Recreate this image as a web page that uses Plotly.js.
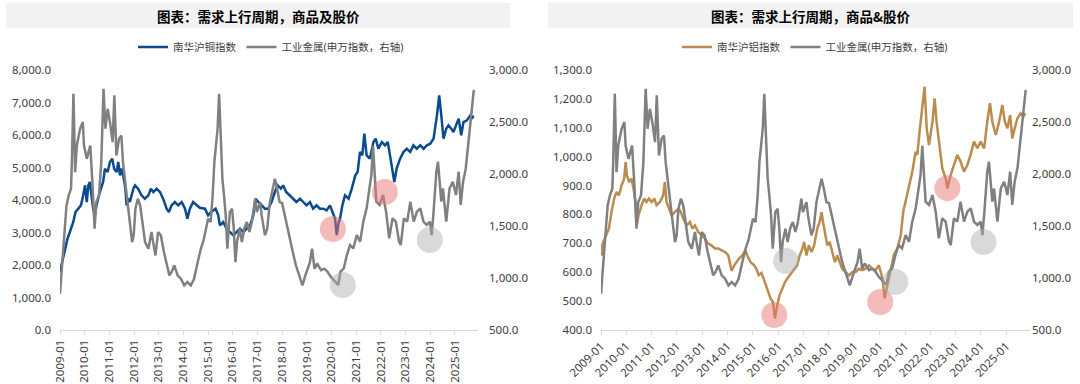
<!DOCTYPE html>
<html>
<head>
<meta charset="utf-8">
<script src="https://cdn.plot.ly/plotly-3.0.1.min.js"></script>
<style>
html,body{margin:0;padding:0;background:#fff;}
#chart{width:1080px;height:384px;}
</style>
</head>
<body>
<div id="chart"></div>
<script>
// ---------------- DATA ----------------
const titleLeft = '图表：需求上行周期，商品及股价';
const titleRight = '图表：需求上行周期，商品&股价';
const nameCu = '南华沪铜指数';
const nameAl = '南华沪铝指数';
const nameMetal = '工业金属(申万指数，右轴)';

// 申万工业金属指数 (right axis in both panels)
const metalDates = ['2009-01-01','2009-01-19','2009-02-04','2009-02-27','2009-04-07','2009-05-10','2009-06-13','2009-06-26','2009-07-19','2009-08-13','2009-09-07','2009-10-25','2009-12-04','2009-12-22','2010-02-01','2010-02-27','2010-03-25','2010-04-25','2010-05-28','2010-06-22','2010-08-01','2010-09-04','2010-10-07','2010-11-04','2010-12-07','2011-01-10','2011-02-19','2011-03-16','2011-04-16','2011-05-25','2011-06-28','2011-07-22','2011-08-28','2011-09-22','2011-10-25','2011-12-04','2011-12-28','2012-01-22','2012-02-27','2012-04-01','2012-05-04','2012-06-13','2012-08-01','2012-09-16','2012-10-10','2012-11-13','2012-12-22','2013-02-01','2013-03-19','2013-04-22','2013-06-07','2013-07-10','2013-08-19','2013-10-07','2013-11-25','2014-01-13','2014-03-01','2014-04-19','2014-06-07','2014-08-01','2014-09-16','2014-11-01','2015-01-01','2015-02-07','2015-03-10','2015-04-04','2015-04-28','2015-05-22','2015-06-13','2015-07-07','2015-08-01','2015-08-25','2015-09-19','2015-10-13','2015-11-19','2015-12-22','2016-01-16','2016-02-10','2016-03-04','2016-04-13','2016-05-16','2016-06-19','2016-07-28','2016-09-04','2016-10-10','2016-11-28','2016-12-22','2017-02-10','2017-03-04','2017-04-22','2017-05-25','2017-07-04','2017-08-13','2017-09-16','2017-10-19','2017-11-25','2018-01-01','2018-02-07','2018-03-10','2018-04-16','2018-05-10','2018-06-19','2018-07-25','2018-09-16','2018-10-28','2018-12-13','2019-01-16','2019-02-16','2019-03-19','2019-04-25','2019-06-01','2019-08-01','2019-09-19','2019-11-04','2019-12-22','2020-03-01','2020-04-10','2020-05-13','2020-07-01','2020-08-16','2020-10-01','2020-11-19','2021-01-10','2021-02-27','2021-04-16','2021-06-04','2021-07-19','2021-08-13','2021-09-07','2021-10-01','2021-10-25','2021-12-13','2022-02-01','2022-03-19','2022-05-04','2022-06-22','2022-08-10','2022-09-27','2022-10-22','2022-12-07','2023-01-25','2023-03-13','2023-05-01','2023-06-19','2023-08-07','2023-09-22','2023-11-10','2023-12-28','2024-01-22','2024-02-16','2024-04-01','2024-04-25','2024-05-19','2024-06-13','2024-07-07','2024-08-01','2024-08-25','2024-10-13','2024-12-01','2025-01-16','2025-02-25','2025-03-27','2025-05-01','2025-06-10','2025-07-25','2025-09-01','2025-10-07'];
const metalValues = [849,993,1153,1345,1698,1794,1858,2114,2772,2018,2274,2435,2500,2274,2146,2210,2274,1922,1474,1730,1794,2114,2820,2435,2627,2500,2306,2756,2178,2338,2370,2114,1922,1794,1570,1345,1410,1666,1762,1698,1538,1345,1281,1442,1345,1217,1442,1410,1249,1153,1025,1057,1121,1025,993,929,961,929,990,1153,1281,1377,1570,1538,1794,2114,2274,2435,2772,2274,1954,1794,1602,1281,1634,1666,1474,1153,1345,1474,1345,1474,1538,1442,1538,1762,1634,1730,1602,1410,1474,1730,1858,1954,1858,1730,1720,1602,1510,1410,1320,1217,1120,1010,930,1029,1089,1153,1281,1089,1140,1075,1090,1060,1010,965,933,1061,1093,1221,1317,1285,1413,1349,1542,1670,1862,1990,2270,1926,1734,1702,1798,1638,1381,1574,1542,1349,1317,1574,1542,1734,1542,1638,1670,1542,1510,1542,1413,1606,2022,2118,1926,1734,1862,1670,1542,1862,1926,1798,2022,1702,1926,2054,2343,2567,2808];

// 南华沪铜指数 (left panel, left axis)
const cuDates = ['2009-01-01','2009-02-01','2009-03-13','2009-04-22','2009-05-27','2009-07-16','2009-08-19','2009-09-27','2009-11-07','2009-12-10','2010-01-07','2010-02-01','2010-02-25','2010-03-19','2010-04-13','2010-05-07','2010-06-01','2010-06-25','2010-08-13','2010-10-01','2010-10-28','2010-12-07','2011-01-10','2011-02-13','2011-03-13','2011-04-19','2011-05-13','2011-06-07','2011-07-01','2011-07-25','2011-08-27','2011-09-13','2011-10-07','2011-11-01','2011-12-22','2012-01-16','2012-03-01','2012-04-22','2012-06-10','2012-08-01','2012-09-07','2012-10-13','2012-12-01','2013-01-19','2013-03-07','2013-04-27','2013-06-01','2013-07-10','2013-08-27','2013-10-16','2013-12-07','2014-01-25','2014-03-01','2014-04-07','2014-05-25','2014-07-16','2014-09-01','2014-11-16','2015-01-01','2015-02-16','2015-04-22','2015-06-01','2015-06-25','2015-08-13','2015-10-01','2015-11-19','2016-01-10','2016-02-27','2016-04-16','2016-06-07','2016-07-25','2016-09-13','2016-11-01','2016-12-04','2017-01-13','2017-03-01','2017-04-22','2017-06-10','2017-07-28','2017-09-16','2017-10-25','2017-12-13','2018-01-16','2018-03-01','2018-04-25','2018-06-13','2018-08-01','2018-09-22','2018-11-10','2018-12-27','2019-02-16','2019-04-04','2019-05-25','2019-07-13','2019-09-01','2019-10-22','2019-12-10','2020-01-13','2020-02-22','2020-03-19','2020-04-16','2020-05-04','2020-06-10','2020-07-19','2020-09-10','2020-10-27','2020-12-19','2021-01-22','2021-02-26','2021-04-01','2021-05-01','2021-06-04','2021-07-22','2021-09-13','2021-10-16','2021-11-25','2022-01-16','2022-03-04','2022-04-13','2022-05-16','2022-06-19','2022-07-19','2022-08-22','2022-10-13','2022-12-01','2023-01-19','2023-03-10','2023-04-27','2023-06-16','2023-08-07','2023-09-25','2023-11-13','2024-01-01','2024-02-19','2024-04-10','2024-05-13','2024-06-13','2024-07-16','2024-08-25','2024-09-27','2024-11-07','2024-12-10','2025-01-16','2025-02-25','2025-04-04','2025-05-07','2025-06-27','2025-08-16','2025-09-10','2025-10-01'];
const cuValues = [1800,2092,2502,2810,3015,3323,3631,3733,3836,4143,4451,3938,4451,4554,4143,3733,3528,3836,4246,4554,4964,4861,5169,5272,4964,4861,5169,4759,4964,4759,4349,3836,4041,3938,4349,4451,4349,4143,4041,4143,4349,4246,4349,4246,4041,3733,3631,3836,3938,3836,3938,3733,3426,3733,3938,3836,3760,3733,3528,3631,3733,3528,3220,3323,3118,3015,2913,3015,3118,3015,3118,3220,3528,4041,3938,3836,3733,3733,3938,4246,4451,4349,4451,4246,4143,4041,3938,4041,3938,3836,3938,3733,3836,3733,3733,3682,3836,3631,3426,2920,3323,3400,3836,4143,4041,4349,4759,4861,5477,5374,6041,5374,5272,5784,5887,5579,5784,5682,5784,5374,4861,4554,4964,5272,5477,5579,5477,5682,5579,5682,5579,5682,5733,5887,6605,7220,6605,5887,6195,6297,6195,6092,6297,6502,5990,6400,6451,6605,6502,6600];

// 南华沪铝指数 (right panel, left axis)
const alDates = ['2009-01-01','2009-01-10','2009-02-04','2009-03-22','2009-04-25','2009-06-01','2009-07-10','2009-08-13','2009-09-16','2009-10-25','2009-12-01','2009-12-22','2010-01-10','2010-02-10','2010-03-16','2010-04-16','2010-05-13','2010-06-01','2010-06-25','2010-08-10','2010-09-16','2010-10-19','2010-11-22','2011-01-01','2011-02-10','2011-03-13','2011-05-01','2011-06-16','2011-07-10','2011-08-04','2011-09-07','2011-10-16','2011-12-01','2012-01-22','2012-02-27','2012-04-01','2012-05-19','2012-07-07','2012-08-10','2012-09-16','2012-11-04','2012-12-22','2013-02-10','2013-03-27','2013-05-13','2013-07-01','2013-08-19','2013-10-07','2013-11-25','2014-01-10','2014-02-04','2014-02-27','2014-04-07','2014-05-10','2014-06-13','2014-08-01','2014-09-16','2014-10-10','2014-11-28','2015-01-16','2015-02-19','2015-03-25','2015-05-04','2015-06-07','2015-07-25','2015-09-13','2015-10-16','2015-11-13','2015-12-16','2016-01-19','2016-02-27','2016-04-07','2016-05-10','2016-06-13','2016-07-19','2016-08-27','2016-10-01','2016-11-04','2016-12-13','2017-01-07','2017-02-10','2017-03-16','2017-04-25','2017-06-01','2017-07-16','2017-08-19','2017-09-16','2017-10-07','2017-11-13','2017-12-07','2018-01-10','2018-02-19','2018-03-27','2018-05-01','2018-06-04','2018-07-10','2018-08-27','2018-10-16','2018-12-04','2019-01-22','2019-03-07','2019-04-25','2019-06-13','2019-08-01','2019-09-19','2019-11-04','2019-12-22','2020-02-10','2020-03-13','2020-04-10','2020-06-07','2020-07-25','2020-09-13','2020-11-01','2020-12-07','2021-01-10','2021-02-27','2021-04-16','2021-06-04','2021-06-27','2021-08-04','2021-09-07','2021-10-10','2021-11-10','2021-12-13','2022-02-01','2022-03-04','2022-04-01','2022-05-04','2022-06-22','2022-08-10','2022-09-04','2022-10-22','2022-12-07','2023-01-25','2023-03-13','2023-05-01','2023-06-19','2023-08-04','2023-09-22','2023-11-10','2023-12-27','2024-02-16','2024-04-01','2024-05-10','2024-06-13','2024-08-01','2024-09-19','2024-11-04','2024-12-10','2025-01-16','2025-02-25','2025-03-27','2025-05-01','2025-06-10','2025-07-25','2025-09-01','2025-10-01'];
const alValues = [699,658,705,728,751,808,855,878,866,901,924,981,935,912,924,889,843,762,797,832,855,843,855,843,855,832,843,866,912,843,820,797,808,820,808,785,762,774,751,762,739,728,716,699,693,682,682,676,670,658,635,605,624,635,647,658,676,658,635,625,612,590,598,575,540,508,497,440,485,520,543,566,578,589,601,612,624,658,681,705,658,693,670,693,751,774,808,774,728,693,705,670,635,658,635,612,601,589,601,601,612,607,612,624,612,607,624,579,510,544,613,660,683,729,810,844,890,948,1017,1006,1098,1179,1242,1098,1040,1121,1202,1121,1063,960,925,890,937,971,1006,983,948,971,1006,1052,1029,1052,1029,1121,1185,1121,1075,1121,1179,1121,1098,1144,1063,1098,1133,1150,1138,1150];

// highlighted points (circles)
const leftRedDates = ['2020-01-22','2022-03-01'];
const leftRedValues = [3108,4246];       // left axis
const leftGrayDates = ['2020-06-16','2023-12-25'];
const leftGrayValues = [933,1365];       // right axis
const rightRedDates = ['2015-11-04','2020-01-10','2022-09-04'];
const rightRedValues = [452,497,891];    // left axis
const rightGrayDates = ['2016-04-22','2020-08-13','2024-02-07'];
const rightGrayValues = [1163,962,1346];  // right axis

// ---------------- STYLE / LAYOUT ----------------
const W = 1080, H = 384;
const px = x => x / W;
const py = y => 1 - y / H;
const FONT = 'Noto Sans, "Noto Sans CJK SC", sans-serif';
const TXT = '#404040';
const AXC = '#D9D9D9';
const C_CU = '#0A4A8E', C_METAL = '#808080', C_AL = '#BA8C4E';
const RED_FILL = 'rgba(233,120,120,0.5)';
const GRAY_FILL = 'rgba(170,170,170,0.45)';
const R = 13;

const traces = [
  {x: cuDates, y: cuValues, name: nameCu, type: 'scatter', mode: 'lines',
   line: {color: C_CU, width: 2.5}, xaxis: 'x', yaxis: 'y', legend: 'legend'},
  {x: metalDates, y: metalValues, name: nameMetal, type: 'scatter', mode: 'lines',
   line: {color: C_METAL, width: 2.5}, xaxis: 'x', yaxis: 'y2', legend: 'legend'},
  {x: alDates, y: alValues, name: nameAl, type: 'scatter', mode: 'lines',
   line: {color: C_AL, width: 2.5}, xaxis: 'x2', yaxis: 'y3', legend: 'legend2'},
  {x: metalDates, y: metalValues, name: nameMetal, type: 'scatter', mode: 'lines',
   line: {color: C_METAL, width: 2.5}, xaxis: 'x2', yaxis: 'y4', legend: 'legend2'}
];

function circles(dates, values, xref, yref, fill) {
  return dates.map((d, i) => ({
    type: 'circle', layer: 'above', xref: xref, yref: yref,
    xsizemode: 'pixel', ysizemode: 'pixel', xanchor: d, yanchor: values[i],
    x0: -R, x1: R, y0: -R, y1: R, fillcolor: fill, line: {width: 0}
  }));
}

const shapes = [
  {type: 'rect', xref: 'paper', yref: 'paper', x0: px(6), x1: px(510), y0: py(28), y1: py(3),
   fillcolor: '#F2F2F2', line: {width: 0}, layer: 'below'},
  {type: 'rect', xref: 'paper', yref: 'paper', x0: px(548), x1: px(1073), y0: py(28), y1: py(3),
   fillcolor: '#F2F2F2', line: {width: 0}, layer: 'below'}
].concat(
  circles(leftRedDates, leftRedValues, 'x', 'y', RED_FILL),
  circles(leftGrayDates, leftGrayValues, 'x', 'y2', GRAY_FILL),
  circles(rightRedDates, rightRedValues, 'x2', 'y3', RED_FILL),
  circles(rightGrayDates, rightGrayValues, 'x2', 'y4', GRAY_FILL)
);

const tickFont = {family: FONT, size: 11.5, color: TXT};
const xCommon = {
  type: 'date', range: ['2009-01-01', '2025-12-08'], tick0: '2009-01-01', dtick: 'M12',
  tickformat: '%Y-%m', ticks: 'outside', ticklen: 4, tickcolor: AXC, tickwidth: 1,
  showline: true, linecolor: AXC, linewidth: 1, showgrid: false, zeroline: false,
  tickfont: tickFont, automargin: false, fixedrange: true
};
const yCommon = {
  showgrid: false, zeroline: false, showline: false, ticks: '', tickformat: ',.1f',
  tickfont: tickFont, automargin: false, fixedrange: true, ticklabelstandoff: 8
};

const layout = {
  width: W, height: H,
  margin: {l: 0, r: 0, t: 0, b: 0},
  paper_bgcolor: '#fff', plot_bgcolor: 'rgba(0,0,0,0)',
  font: {family: FONT, color: TXT},
  showlegend: true,
  xaxis: Object.assign({}, xCommon, {domain: [px(60), px(478)], anchor: 'y', tickangle: -90}),
  yaxis: Object.assign({}, yCommon, {domain: [py(330), py(70)], range: [0, 8000], dtick: 1000, anchor: 'x'}),
  yaxis2: Object.assign({}, yCommon, {overlaying: 'y', side: 'right', range: [500, 3000], dtick: 500, anchor: 'x', ticklabelstandoff: 10}),
  xaxis2: Object.assign({}, xCommon, {domain: [px(601), px(1030)], anchor: 'y3', tickangle: -45}),
  yaxis3: Object.assign({}, yCommon, {domain: [py(330), py(70)], range: [400, 1300], dtick: 100, anchor: 'x2'}),
  yaxis4: Object.assign({}, yCommon, {overlaying: 'y3', side: 'right', range: [500, 3000], dtick: 500, anchor: 'x2', ticklabelstandoff: 1}),
  legend: {orientation: 'h', x: px(271), xanchor: 'center', y: py(47), yanchor: 'middle',
           font: {family: FONT, size: 10.5, color: TXT}, itemwidth: 30, bgcolor: 'rgba(0,0,0,0)'},
  legend2: {orientation: 'h', x: px(815), xanchor: 'center', y: py(47), yanchor: 'middle',
            font: {family: FONT, size: 10.5, color: TXT}, itemwidth: 30, bgcolor: 'rgba(0,0,0,0)'},
  shapes: shapes,
  annotations: [
    {text: '<b>' + titleLeft + '</b>', xref: 'paper', yref: 'paper', x: px(258), y: py(15.5),
     xanchor: 'center', yanchor: 'middle', showarrow: false,
     font: {family: '"Noto Sans CJK SC", sans-serif', size: 13.5, color: '#000'}},
    {text: '<b>' + titleRight + '</b>', xref: 'paper', yref: 'paper', x: px(810), y: py(15.5),
     xanchor: 'center', yanchor: 'middle', showarrow: false,
     font: {family: '"Noto Sans CJK SC", sans-serif', size: 13.5, color: '#000'}}
  ]
};

Plotly.newPlot('chart', traces, layout, {staticPlot: true, displayModeBar: false});
</script>
</body>
</html>
